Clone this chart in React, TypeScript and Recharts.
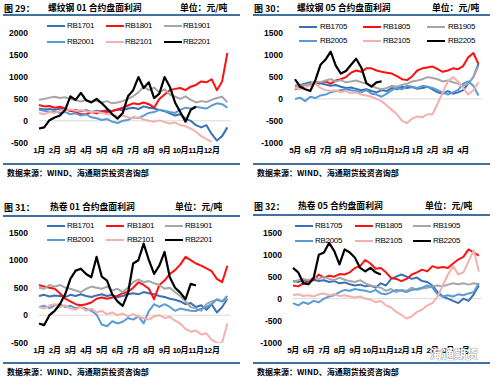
import { LineChart, Line, XAxis, YAxis, ReferenceLine } from "recharts";

const MONTHS_01 = ["1月", "2月", "3月", "4月", "5月", "6月", "7月", "8月", "9月", "10月", "11月", "12月"];
const MONTHS_05 = ["5月", "6月", "7月", "8月", "9月", "10月", "11月", "12月", "1月", "2月", "3月", "4月"];

// three points per month
const REBAR01_RB1701 = [280, 260, 270, 250, 280, 260, 230, 250, 220, 240, 200, 230, 210, 250, 220, 260, 240, 280, 300, 270, 330, 300, 280, 250, 220, 170, 120, 150, 50, 0, -100, -150, -100, -300, -450, -350, -150];
const REBAR01_RB1801 = [360, 330, 340, 300, 320, 280, 230, 200, 150, 150, 200, 170, 220, 200, 230, 260, 300, 350, 400, 380, 420, 380, 300, 500, 600, 700, 730, 750, 700, 780, 820, 900, 880, 950, 700, 900, 1550];
const REBAR01_RB1901 = [480, 500, 530, 550, 520, 540, 500, 470, 440, 480, 430, 460, 420, 450, 400, 420, 450, 500, 560, 650, 780, 700, 760, 650, 720, 600, 550, 500, 560, 480, 420, 450, 430, 480, 520, 550, 420];
const REBAR01_RB2001 = [250, 230, 200, 220, 180, 200, 150, 170, 120, 150, 80, 60, 20, 40, -20, -50, 0, 20, 80, 60, 120, 180, 200, 250, 230, 200, 180, 250, 300, 280, 320, 300, 280, 350, 400, 380, 300];
const REBAR01_RB2101 = [180, 150, 200, 180, 230, 250, 260, 230, 240, 220, 200, 210, 180, 150, 140, 100, 120, 80, 60, 80, 30, 0, -20, 10, -30, -60, -40, -100, -120, -180, -250, -350, -420, -480];
const REBAR01_RB2201 = [-175, -150, 15, 75, 120, 250, 560, 480, 640, 470, 420, 500, 400, 280, 150, 50, 180, 560, 700, 1000, 750, 880, 520, 620, 1000, 780, 420, 200, -20, 250, 320];

const REBAR05_RB1705 = [300, 320, 350, 380, 350, 360, 330, 300, 320, 280, 250, 260, 230, 200, 220, 180, 150, 200, 180, 250, 220, 280, 250, 270, 230, 250, 280, 220, 150, 120, 180, 120, 150, 200, 350, 500, 800];
const REBAR05_RB1805 = [220, 250, 300, 320, 350, 380, 400, 350, 420, 450, 500, 600, 650, 620, 700, 700, 650, 620, 600, 580, 520, 450, 430, 520, 650, 700, 720, 740, 680, 620, 650, 700, 680, 750, 950, 1050, 800];
const REBAR05_RB1905 = [280, 300, 320, 350, 400, 380, 420, 450, 400, 430, 380, 400, 420, 380, 350, 300, 250, 220, 250, 300, 280, 320, 350, 400, 420, 450, 500, 480, 450, 400, 420, 380, 350, 300, 350, 500, 750];
const REBAR05_RB2005 = [0, 30, -50, 50, 20, 80, 100, 150, 180, 200, 220, 200, 180, 150, 200, 120, 100, 50, 120, 200, 250, 220, 300, 280, 250, 300, 280, 250, 200, 150, 100, 150, 200, 350, 400, 300, 80];
const REBAR05_RB2105 = [250, 220, 280, 300, 350, 250, 200, 180, 200, 150, 180, 130, 150, 100, 80, 50, 0, -50, -150, -250, -350, -500, -550, -450, -400, -420, -350, -350, -100, 150, 400, 500, 400, 250, 100, 200, 380];
const REBAR05_RB2205 = [450, 280, 220, 180, 430, 780, 900, 1080, 760, 580, 640, 780, 920, 720, 360, 280, 380, 400];

const HRC01_RB1701 = [350, 370, 340, 360, 350, 330, 370, 350, 380, 350, 330, 360, 380, 350, 370, 330, 350, 380, 400, 380, 420, 400, 380, 350, 330, 300, 280, 250, 200, 220, 150, 180, 100, 200, 50, 150, 300];
const HRC01_RB1801 = [550, 520, 500, 480, 400, 300, 250, 200, 180, 200, 230, 300, 320, 300, 320, 350, 400, 420, 500, 600, 550, 480, 290, 550, 630, 750, 820, 920, 1060, 1000, 940, 900, 850, 800, 660, 600, 900];
const HRC01_RB1901 = [500, 480, 550, 520, 550, 500, 480, 450, 420, 480, 520, 500, 480, 520, 450, 480, 420, 500, 600, 650, 600, 620, 580, 550, 480, 500, 420, 350, 250, 150, 120, 80, 200, 250, 280, 250, 300];
const HRC01_RB2001 = [150, 170, 130, 180, 200, 150, 170, 130, 150, 120, 80, 10, -170, -200, -110, -150, -120, -50, -80, -20, -150, 75, 200, 150, 200, 150, 80, 120, 100, 80, 75, 120, 150, 200, 290, 250, 350];
const HRC01_RB2101 = [150, 120, 180, 200, 150, 180, 120, 100, 150, 80, 120, 50, 80, 20, 50, 0, 30, -20, 20, -30, -50, -80, -20, 0, -50, -30, -100, -150, -250, -300, -280, -350, -330, -450, -500, -500, -150];
const HRC01_RB2201 = [-150, -180, 0, 80, 200, 380, 660, 810, 845, 750, 690, 1060, 700, 630, 380, 250, 170, 400, 940, 1000, 1300, 1000, 750, 900, 1150, 690, 500, 410, 290, 570, 540];

const HRC05_RB1705 = [400, 380, 420, 400, 430, 400, 420, 380, 400, 350, 370, 330, 300, 320, 280, 300, 250, 350, 300, 450, 500, 550, 500, 450, 480, 400, 380, 300, 150, 50, 0, -50, -100, 0, -50, 100, 300];
const HRC05_RB1805 = [300, 280, 350, 400, 420, 550, 480, 520, 500, 560, 550, 600, 700, 740, 880, 800, 680, 700, 600, 470, 450, 400, 450, 550, 600, 660, 620, 740, 700, 720, 700, 800, 890, 950, 1120, 1050, 980];
const HRC05_RB1905 = [380, 420, 450, 420, 480, 450, 500, 450, 420, 480, 430, 400, 380, 420, 350, 300, 280, 250, 180, 220, 150, 200, 180, 250, 200, 230, 250, 280, 300, 280, 320, 350, 330, 350, 320, 350, 330];
const HRC05_RB2005 = [-100, -150, -80, -120, -50, -80, 0, 50, 80, 150, 200, 180, 220, 200, 180, 150, 200, 120, 100, 150, 200, 180, 150, 200, 220, 250, 300, 250, 100, 50, 80, 50, 100, 80, 120, 150, 350];
const HRC05_RB2105 = [80, 100, 60, 80, 50, 100, 120, 80, 100, 60, 80, 50, 30, 50, 0, -20, -80, -50, -150, -200, -300, -370, -450, -400, -300, -250, -150, -100, 50, 300, 550, 740, 550, 600, 850, 1100, 620];
const HRC05_RB2205 = [700, 600, 350, 330, 470, 1000, 1050, 1270, 1080, 780, 1120, 1050, 930, 700, 620, 700, 600, 550];

const COLORS = ["#3a70b8", "#ff1010", "#a6a6a6", "#5b9bd5", "#f5b0ae", "#000000"];
const NUM_FONT = '"Liberation Sans", Arial, "Noto Sans CJK SC", sans-serif';
const CJK_FONT = '"Noto Sans CJK SC", "Liberation Sans", sans-serif';
const RULE = "#41709f";

interface SeriesCfg {
  name: string;
  data: number[];
}

interface PanelCfg {
  left: number;
  top: number;
  height: number;
  fig: string;
  title: string;
  months: string[];
  yDomain: [number, number];
  yTicks: number[];
  series: SeriesCfg[];
  plotTop: number;
  plotBottom: number;
  plotLeft: number;
  plotRight: number;
  tickGap: number;
  titleY: number;
  titleX: number;
  unitX: number;
  ruleY: number;
  ruleBottomY: number;
  sourceY: number;
  legendRows: number[];
  legendLineX: number[];
  legendTextX: number[];
}

const PANELS: PanelCfg[] = [
  {
    left: 0, top: 0, height: 190, fig: "图 29：", title: "螺纹钢 01 合约盘面利润",
    months: MONTHS_01, yDomain: [-500, 2000], yTicks: [-500, 0, 500, 1000, 1500, 2000],
    series: [
      { name: "RB1701", data: REBAR01_RB1701 },
      { name: "RB1801", data: REBAR01_RB1801 },
      { name: "RB1901", data: REBAR01_RB1901 },
      { name: "RB2001", data: REBAR01_RB2001 },
      { name: "RB2101", data: REBAR01_RB2101 },
      { name: "RB2201", data: REBAR01_RB2201 },
    ],
    plotTop: 33.3, plotBottom: 142.7, plotLeft: 39, plotRight: 230.5, tickGap: 11,
    titleY: 7.5, titleX: 48, unitX: 180, ruleY: 15, ruleBottomY: 164, sourceY: 173,
    legendRows: [26, 42], legendLineX: [47, 106, 164], legendTextX: [67, 125, 183],
  },
  {
    left: 250, top: 0, height: 190, fig: "图 30：", title: "螺纹钢 05 合约盘面利润",
    months: MONTHS_05, yDomain: [-1000, 1500], yTicks: [-1000, -500, 0, 500, 1000, 1500],
    series: [
      { name: "RB1705", data: REBAR05_RB1705 },
      { name: "RB1805", data: REBAR05_RB1805 },
      { name: "RB1905", data: REBAR05_RB1905 },
      { name: "RB2005", data: REBAR05_RB2005 },
      { name: "RB2105", data: REBAR05_RB2105 },
      { name: "RB2205", data: REBAR05_RB2205 },
    ],
    plotTop: 33.3, plotBottom: 142.7, plotLeft: 45, plotRight: 231.5, tickGap: 12,
    titleY: 7.5, titleX: 47, unitX: 182, ruleY: 15, ruleBottomY: 164, sourceY: 173,
    legendRows: [27, 41], legendLineX: [49, 113, 177], legendTextX: [70, 133, 198],
  },
  {
    left: 0, top: 190, height: 190, fig: "图 31：", title: "热卷 01 合约盘面利润",
    months: MONTHS_01, yDomain: [-500, 1500], yTicks: [-500, 0, 500, 1000, 1500],
    series: [
      { name: "RB1701", data: HRC01_RB1701 },
      { name: "RB1801", data: HRC01_RB1801 },
      { name: "RB1901", data: HRC01_RB1901 },
      { name: "RB2001", data: HRC01_RB2001 },
      { name: "RB2101", data: HRC01_RB2101 },
      { name: "RB2201", data: HRC01_RB2201 },
    ],
    plotTop: 42.7, plotBottom: 152.7, plotLeft: 39, plotRight: 230.5, tickGap: 11,
    titleY: 16.7, titleX: 50, unitX: 175, ruleY: 25.5, ruleBottomY: 173, sourceY: 182,
    legendRows: [36, 50], legendLineX: [47, 106, 165], legendTextX: [67, 127, 185],
  },
  {
    left: 250, top: 190, height: 190, fig: "图 32：", title: "热卷 05 合约盘面利润",
    months: MONTHS_05, yDomain: [-1000, 1500], yTicks: [-1000, -500, 0, 500, 1000, 1500],
    series: [
      { name: "RB1705", data: HRC05_RB1705 },
      { name: "RB1805", data: HRC05_RB1805 },
      { name: "RB1905", data: HRC05_RB1905 },
      { name: "RB2005", data: HRC05_RB2005 },
      { name: "RB2105", data: HRC05_RB2105 },
      { name: "RB2205", data: HRC05_RB2205 },
    ],
    plotTop: 42.7, plotBottom: 152.7, plotLeft: 43, plotRight: 232, tickGap: 11,
    titleY: 16, titleX: 48, unitX: 175, ruleY: 25, ruleBottomY: 173, sourceY: 182,
    legendRows: [36, 51], legendLineX: [45, 105, 163], legendTextX: [65, 125, 183],
  },
];

const MONTH_TICKS = [0, 3, 6, 9, 12, 15, 18, 21, 24, 27, 30, 33];

function buildRows(series: SeriesCfg[]) {
  const n = Math.max(...series.map((s) => s.data.length));
  const rows: Record<string, number | undefined>[] = [];
  for (let i = 0; i < n; i++) {
    const row: Record<string, number | undefined> = { i };
    series.forEach((s) => {
      row[s.name] = s.data[i];
    });
    rows.push(row);
  }
  return rows;
}

function Panel({ cfg }: { cfg: PanelCfg }) {
  const rows = buildRows(cfg.series);
  const textStyle = (y: number, x: number, extra: React.CSSProperties = {}) => ({
    position: "absolute" as const,
    left: x,
    top: y,
    transform: "translateY(-50%)",
    whiteSpace: "nowrap" as const,
    lineHeight: 1,
    color: "#000",
    ...extra,
  });

  return (
    <div
      style={{
        position: "absolute",
        left: cfg.left,
        top: cfg.top,
        width: 250,
        height: cfg.height,
      }}
    >
      <div style={textStyle(cfg.titleY, 4, { fontFamily: CJK_FONT, fontSize: 9, fontWeight: 700 })}>
        {cfg.fig}
      </div>
      <div style={textStyle(cfg.titleY, cfg.titleX, { fontFamily: CJK_FONT, fontSize: 8.8, fontWeight: 700 })}>
        {cfg.title}
      </div>
      <div style={textStyle(cfg.titleY, cfg.unitX, { fontFamily: CJK_FONT, fontSize: 8.8, fontWeight: 700 })}>
        单位：元/吨
      </div>
      <div style={{ position: "absolute", left: 3, top: cfg.ruleY - 1, width: 237, height: 2, background: RULE }} />
      <div style={{ position: "absolute", left: 3, top: cfg.ruleBottomY - 1, width: 237, height: 2, background: RULE }} />
      <div style={textStyle(cfg.sourceY, 7, { fontFamily: CJK_FONT, fontSize: 8, fontWeight: 700 })}>
        数据来源：WIND、海通期货投资咨询部
      </div>

      {cfg.series.map((s, idx) => {
        const row = Math.floor(idx / 3);
        const col = idx % 3;
        const y = cfg.legendRows[row];
        return (
          <div key={s.name}>
            <div
              style={{
                position: "absolute",
                left: cfg.legendLineX[col],
                top: y - 1.25,
                width: 18,
                height: 2.5,
                background: COLORS[idx],
              }}
            />
            <div
              style={textStyle(y, cfg.legendTextX[col], {
                fontFamily: NUM_FONT,
                fontSize: 8,
                letterSpacing: -0.3,
              })}
            >
              {s.name}
            </div>
          </div>
        );
      })}

      <div style={{ position: "absolute", left: 0, top: 0 }}>
        <LineChart
          width={250}
          height={cfg.height}
          data={rows}
          margin={{
            top: cfg.plotTop,
            right: 250 - cfg.plotRight,
            left: cfg.plotLeft - 30,
            bottom: cfg.height - cfg.plotBottom - 20,
          }}
        >
          <XAxis
            dataKey="i"
            type="number"
            domain={[0, 36.6]}
            ticks={MONTH_TICKS}
            interval={0}
            tickFormatter={(v: number) => cfg.months[Math.round(v / 3)]}
            axisLine={false}
            tickLine={false}
            tickSize={0}
            tickMargin={5}
            height={20}
            tick={{ fontSize: 8, fontWeight: 700, fill: "#000", fontFamily: NUM_FONT, letterSpacing: -0.4 }}
          />
          <YAxis
            type="number"
            domain={cfg.yDomain}
            ticks={cfg.yTicks}
            interval={0}
            allowDataOverflow
            axisLine={false}
            tickLine={false}
            tickSize={0}
            tickMargin={cfg.tickGap}
            width={30}
            tick={{ fontSize: 8.5, fontWeight: 700, fill: "#000", fontFamily: NUM_FONT }}
          />
          <ReferenceLine y={0} stroke="#d9d9d9" strokeWidth={1} />
          {cfg.series.map((s, idx) => (
            <Line
              key={s.name}
              type="linear"
              dataKey={s.name}
              stroke={COLORS[idx]}
              strokeWidth={idx === 5 ? 2.2 : 2}
              strokeLinejoin="round"
              dot={false}
              activeDot={false}
              isAnimationActive={false}
            />
          ))}
        </LineChart>
      </div>
    </div>
  );
}

export default function App() {
  return (
    <div
      style={{
        position: "absolute",
        left: 0,
        top: 0,
        width: 500,
        height: 380,
        background: "#fff",
        overflow: "hidden",
      }}
    >
      {PANELS.map((p) => (
        <Panel key={p.fig} cfg={p} />
      ))}
      <div
        style={{
          position: "absolute",
          left: 430,
          top: 348,
          fontFamily: CJK_FONT,
          fontSize: 12,
          fontWeight: 700,
          color: "#fff",
          textShadow: "0 0 1px #777, 0 0 1px #777",
          lineHeight: 1,
          whiteSpace: "nowrap",
        }}
      >
        海通期货
      </div>
    </div>
  );
}
